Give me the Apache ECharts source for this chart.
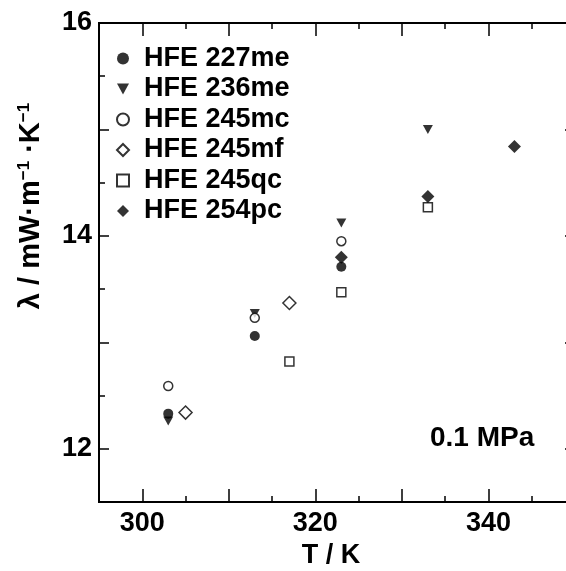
<!DOCTYPE html>
<html>
<head>
<meta charset="utf-8">
<script src="https://cdn.jsdelivr.net/npm/echarts@6/dist/echarts.min.js"></script>
<style>
html, body { margin: 0; padding: 0; background: #fff; }
#chart { width: 566px; height: 571px; }
</style>
</head>
<body>
<div id="chart"></div>
<script>
// values: [T / K, lambda / mW m-1 K-1]
var hfe227me = [[303, 12.33], [313, 13.06], [323, 13.71]];
var hfe236me = [[303, 12.26], [313, 13.27], [323, 14.12], [333, 15.0]];
var hfe245mc = [[303, 12.59], [313, 13.23], [323, 13.95]];
var hfe245mf = [[305, 12.34], [317, 13.37]];
var hfe245qc = [[317, 12.82], [323, 13.47], [333, 14.27]];
var hfe254pc = [[323, 13.80], [333, 14.37], [343, 14.84]];

var xMajor = [300, 310, 320, 330, 340, 350];
var xMinor = [305, 315, 325, 335, 345];
var xLabels = [300, 320, 340];
var yMajor = [12, 13, 14, 15, 16];
var yMinor = [12.5, 13.5, 14.5, 15.5];
var yLabels = [12, 14, 16];

var FONT = 'Liberation Sans';
var FS = 27;
var chart = echarts.init(document.getElementById('chart'));

function xAx(pos, ticks, len, labels) {
    return {
        type: 'value', min: 295, max: 350, position: pos,
        axisLine: { show: true, lineStyle: { color: '#000', width: 2 } },
        axisTick: { show: true, inside: true, length: len, customValues: ticks,
                    lineStyle: { color: '#000', width: 1.5 } },
        axisLabel: labels ? { show: true, customValues: labels, margin: 8,
                    color: '#000', fontFamily: FONT, fontWeight: 'bold', fontSize: FS }
                  : { show: false },
        splitLine: { show: false }
    };
}
function yAx(pos, ticks, len, labels) {
    return {
        type: 'value', min: 11.5, max: 16, position: pos,
        axisLine: { show: pos === 'left', lineStyle: { color: '#000', width: 2 } },
        axisTick: { show: true, inside: true, length: len, customValues: ticks,
                    lineStyle: { color: '#000', width: 1.5 } },
        axisLabel: labels ? { show: true, customValues: labels, margin: 7,
                    color: '#000', fontFamily: FONT, fontWeight: 'bold', fontSize: FS }
                  : { show: false },
        splitLine: { show: false }
    };
}

var open = { color: '#fff', borderColor: '#000', borderWidth: 1.5 };
var filled = { color: '#000' };
var downTri = 'path://M0,0L10,0L5,9Z';

function sc(name, data, symbol, size, style) {
    return {
        name: name, type: 'scatter', data: data,
        symbol: symbol, symbolSize: size,
        itemStyle: style, emphasis: { disabled: true }
    };
}

var option = {
    animation: false,
    backgroundColor: '#fff',
    grid: { left: 99, top: 23, bottom: 69, width: 476, outerBoundsMode: 'none' },
    xAxis: [
        xAx('bottom', xMajor, 13, xLabels),
        xAx('bottom', xMinor, 6, null),
        xAx('top', xMajor, 13, null),
        xAx('top', xMinor, 6, null)
    ],
    yAxis: [
        yAx('left', yMajor, 10, yLabels),
        yAx('left', yMinor, 6, null),
        yAx('right', yMajor, 10, null),
        yAx('right', yMinor, 6, null)
    ],
    legend: {
        orient: 'vertical', left: 116, top: 45, padding: 0,
        itemWidth: 12, itemHeight: 12, itemGap: 3.5,
        textStyle: { color: '#000', fontFamily: FONT, fontWeight: 'bold',
                     fontSize: FS, lineHeight: 27, padding: [0, 0, 0, 10] },
        data: ['HFE 227me', 'HFE 236me', 'HFE 245mc', 'HFE 245mf', 'HFE 245qc', 'HFE 254pc']
    },
    graphic: [
        { type: 'text', x: 430, y: 424,
          style: { text: '0.1 MPa', fill: '#000', font: 'bold 28px "Liberation Sans"' } },
        { type: 'text', x: 331, y: 556,
          style: { text: 'T / K', fill: '#000', font: 'bold 27px "Liberation Sans"',
                   align: 'center', verticalAlign: 'middle' } },
        { type: 'text', x: 31, y: 206, rotation: Math.PI / 2,
          style: { text: '{a|λ / mW·m}{s|−1}{a| ·K}{s|−1}', fill: '#000',
                   align: 'center', verticalAlign: 'middle',
                   rich: {
                       a: { fontFamily: FONT, fontWeight: 'bold', fontSize: 29, lineHeight: 33 },
                       s: { fontFamily: FONT, fontWeight: 'bold', fontSize: 17, lineHeight: 33,
                            padding: [0, 0, 14, 0] }
                   } } }
    ],
    series: [
        sc('HFE 227me', hfe227me, 'circle', 10, filled),
        sc('HFE 236me', hfe236me, downTri, [10, 9], filled),
        sc('HFE 245mc', hfe245mc, 'circle', 9, open),
        sc('HFE 245mf', hfe245mf, 'diamond', 13, open),
        sc('HFE 245qc', hfe245qc, 'rect', 9, open),
        sc('HFE 254pc', hfe254pc, 'diamond', 13, filled)
    ]
};
chart.setOption(option);
</script>
</body>
</html>
